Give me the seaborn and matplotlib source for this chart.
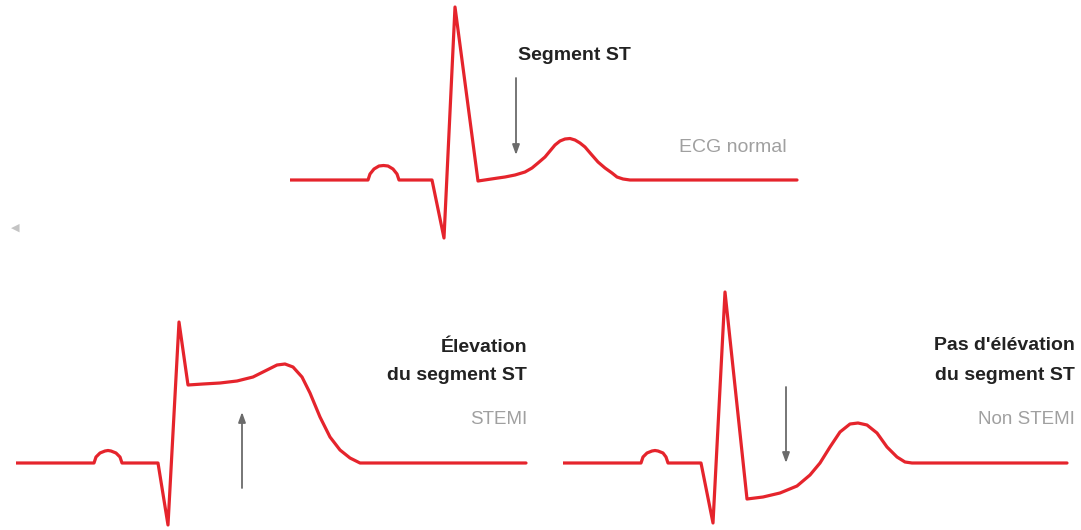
import matplotlib
matplotlib.use("Agg")
import matplotlib.pyplot as plt
import seaborn as sns

# tracés ECG : temps (px) depuis le début du tracé, amplitude (px) au-dessus de la ligne de base
normal_t = [0, 78, 80, 84, 89, 93.5, 98, 103, 107, 109, 142, 154, 165, 188, 208, 215, 225, 235,
            242, 248, 255, 260, 265, 270, 275, 280, 285, 290, 295, 301, 308, 315, 322, 327,
            333, 340, 507]
normal_v = [0, 0, 6, 11, 14, 14.5, 14, 11, 6, 0, 0, -58, 173, -1, 2, 3, 5, 8,
            12, 17, 23, 29, 35, 39, 41, 41.5, 40, 37, 33, 26, 18, 12, 7, 3,
            1, 0, 0]

stemi_t = [0, 78, 80, 84, 89, 92, 95, 100, 104, 106, 142, 152, 163, 172, 187, 204, 221, 237,
           251, 261, 269, 277, 286, 294, 304, 314, 324, 334, 344, 510]
stemi_v = [0, 0, 6, 10, 12, 12.5, 12, 10, 6, 0, 0, -62, 141, 78, 79, 80, 82, 86,
           93, 98, 99, 96, 86, 70, 46, 26, 13, 5, 0, 0]

nstemi_t = [0, 78, 80, 84, 89, 92, 95, 100, 103, 105, 138, 150, 162, 184, 200, 217, 234, 247,
            257, 267, 277, 287, 295, 304, 314, 324, 334, 342, 349, 504]
nstemi_v = [0, 0, 6, 10, 12, 12.5, 12, 10, 6, 0, 0, -60, 171, -36, -34, -30, -23, -12,
            0, 16, 31, 39, 40, 38, 30, 16, 6, 1, 0, 0]

W, H = 1081, 530
ROUGE = "#e5242c"
GRIS_FLECHE = "#6b6b6b"
GRIS_TXT = "#a0a0a0"
NOIR_TXT = "#222222"

sns.set_theme(style="white")
plt.rcParams["font.family"] = ["Liberation Sans", "DejaVu Sans"]

fig = plt.figure(figsize=(W / 100, H / 100), dpi=100)
fig.patch.set_facecolor("white")


def panneau(gauche, base, largeur, haut, bas):
    # axes en unités pixel, ligne de base à 0
    ax = fig.add_axes([gauche / W, (H - (base + bas)) / H, largeur / W, (haut + bas) / H])
    ax.set_xlim(0, largeur)
    ax.set_ylim(-bas, haut)
    ax.axis("off")
    return ax


def trace(ax, t, v):
    sns.lineplot(x=t, y=v, ax=ax, sort=False, estimator=None, color=ROUGE,
                 linewidth=2.3, solid_joinstyle="round")


def fleche(ax, x, y0, y1):
    ax.annotate("", xy=(x, y1), xytext=(x, y0),
                arrowprops=dict(arrowstyle="-|>,head_length=0.5,head_width=0.18",
                                color=GRIS_FLECHE, lw=1.3, shrinkA=0, shrinkB=0))


def texte(ax, x, y, s, gras=True, ha="right"):
    ax.text(x, y, s, fontsize=14 if gras else 13.5, fontweight="bold" if gras else "normal",
            color=NOIR_TXT if gras else GRIS_TXT, ha=ha, va="center", clip_on=False)


# ECG normal
ax1 = panneau(290, 180, 520, 180, 70)
trace(ax1, normal_t, normal_v)
fleche(ax1, 226, 102, 25)
texte(ax1, 228, 125, "Segment ST", ha="left")
ax1.text(497, 32, "ECG normal", fontsize=14, color=GRIS_TXT, ha="right", va="center")

# STEMI
ax2 = panneau(16, 463, 520, 200, 67)
trace(ax2, stemi_t, stemi_v)
fleche(ax2, 226, -25, 51)
texte(ax2, 511, 116, "Élevation")
texte(ax2, 511, 88, "du segment ST")
texte(ax2, 511, 44, "STEMI", gras=False)

# Non STEMI
ax3 = panneau(563, 463, 515, 200, 67)
trace(ax3, nstemi_t, nstemi_v)
fleche(ax3, 223, 76, 0)
texte(ax3, 512, 118, "Pas d'élévation")
texte(ax3, 512, 88, "du segment ST")
texte(ax3, 512, 43, "Non STEMI", gras=False)

# flèche de navigation à gauche
fig.text(15 / W, 1 - 228 / H, "◀", fontsize=8, color="#c4c4c4", ha="center", va="center",
         family=["DejaVu Sans"])

fig.savefig("out.png", dpi=100, facecolor="white")
